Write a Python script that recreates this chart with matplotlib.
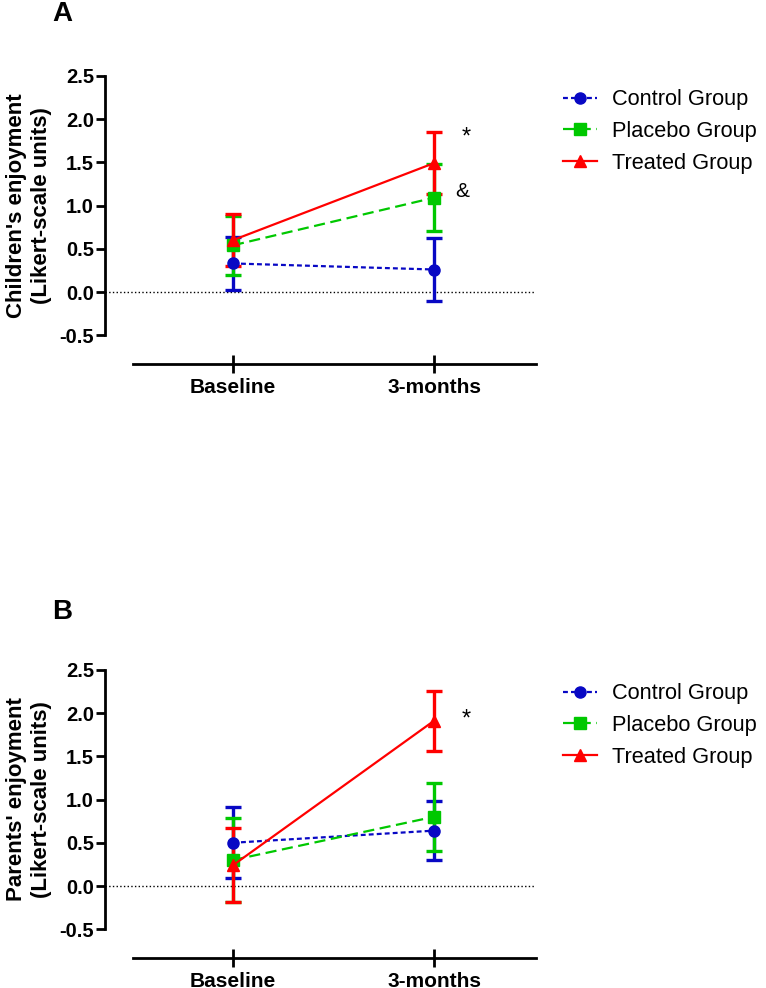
import matplotlib
matplotlib.use('Agg')
import matplotlib.pyplot as plt

plt.rcParams['font.family'] = ['Liberation Sans', 'DejaVu Sans']

timepoints = ['Baseline', '3-months']
groups = ['Control Group', 'Placebo Group', 'Treated Group']

# panel A: children's enjoyment (mean and half-height of error bar)
children_mean = {
    'Control Group': [0.33, 0.26],
    'Placebo Group': [0.54, 1.09],
    'Treated Group': [0.60, 1.49],
}
children_err = {
    'Control Group': [0.31, 0.36],
    'Placebo Group': [0.34, 0.39],
    'Treated Group': [0.30, 0.36],
}

# panel B: parents' enjoyment
parents_mean = {
    'Control Group': [0.50, 0.64],
    'Placebo Group': [0.30, 0.80],
    'Treated Group': [0.24, 1.91],
}
parents_err = {
    'Control Group': [0.41, 0.34],
    'Placebo Group': [0.49, 0.39],
    'Treated Group': [0.43, 0.35],
}

colors = {'Control Group': '#0808c4', 'Placebo Group': '#00c800', 'Treated Group': '#ff0000'}
markers = {'Control Group': 'o', 'Placebo Group': 's', 'Treated Group': '^'}
dashes = {'Control Group': (2.2, 1.4), 'Placebo Group': (5, 2.5), 'Treated Group': None}

W, H = 766, 988
fig = plt.figure(figsize=(W / 100, H / 100), dpi=100)

XPX = 201.0   # px per category step
YPX = 86.5    # px per y unit
X0PX = 233    # px of Baseline
XL, XR = 105, 536
YTOP, YBOT = 2.6, -0.83


def make_axes(zero_px):
    top_px = zero_px - YTOP * YPX
    bot_px = zero_px - YBOT * YPX
    ax = fig.add_axes([XL / W, 1 - bot_px / H, (XR - XL) / W, (bot_px - top_px) / H])
    ax.set_xlim((XL - X0PX) / XPX, (XR - X0PX) / XPX)
    ax.set_ylim(YBOT, YTOP)
    return ax


def draw_panel(ax, means, errs, ylabel, notes):
    x = list(range(len(timepoints)))
    handles = []
    for g in groups:
        ax.errorbar(x, means[g], yerr=errs[g], fmt='none', ecolor=colors[g],
                    elinewidth=2.4, capsize=5.5, capthick=2.4, zorder=3)
        ln, = ax.plot(x, means[g], color=colors[g], marker=markers[g], markersize=8,
                      linewidth=1.6, label=g, zorder=4)
        if dashes[g] is not None:
            ln.set_dashes(dashes[g])
        handles.append(ln)

    ax.axhline(0, color='black', linestyle=':', linewidth=1, zorder=1)

    for s in ['top', 'right']:
        ax.spines[s].set_visible(False)
    ax.spines['left'].set_linewidth(2)
    ax.spines['bottom'].set_linewidth(2)
    ax.spines['left'].set_bounds(-0.5, 2.5)
    ax.spines['bottom'].set_bounds(-0.5, (XR - X0PX) / XPX)

    ax.set_yticks([-0.5, 0.0, 0.5, 1.0, 1.5, 2.0, 2.5])
    ax.set_yticklabels(['-0.5', '0.0', '0.5', '1.0', '1.5', '2.0', '2.5'],
                       fontsize=14.5, fontweight='bold')
    ax.tick_params(axis='y', direction='out', length=6.5, width=2, pad=1.5)
    ax.set_xticks(x)
    ax.set_xticklabels(timepoints, fontsize=15, fontweight='bold')
    ax.tick_params(axis='x', direction='inout', length=13, width=2, pad=4)

    ax.set_ylabel(ylabel, fontsize=16, fontweight='bold', linespacing=1.3)
    ax.yaxis.set_label_coords(-0.122, (1.0 - YBOT) / (YTOP - YBOT))

    for txt, tx, ty, fs in notes:
        ax.text(tx, ty, txt, fontsize=fs, ha='center', va='center')

    ax.legend(handles=handles, loc='upper left', bbox_to_anchor=(1.042, 0.955),
              frameon=False, fontsize=15.7, handlelength=1.55, handletextpad=0.7,
              labelspacing=0.5, borderaxespad=0)


axA = make_axes(292)
draw_panel(axA, children_mean, children_err,
           "Children's enjoyment\n(Likert-scale units)",
           [('*', 1.16, 1.78, 17), ('&', 1.14, 1.16, 15)])

axB = make_axes(886)
draw_panel(axB, parents_mean, parents_err,
           "Parents' enjoyment\n(Likert-scale units)",
           [('*', 1.16, 1.92, 17)])

fig.text(62 / W, 1 - 14 / H, 'A', fontsize=20, fontweight='bold', ha='center', va='center')
fig.text(62 / W, 1 - 612 / H, 'B', fontsize=20, fontweight='bold', ha='center', va='center')

fig.savefig('out.png', dpi=100)
